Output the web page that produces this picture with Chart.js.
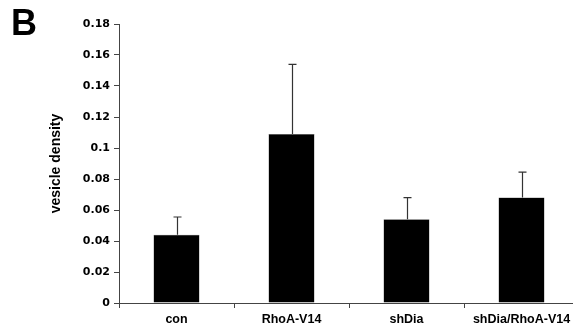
<!DOCTYPE html>
<html>
<head>
<meta charset="utf-8">
<script src="https://cdn.jsdelivr.net/npm/chart.js@4/dist/chart.umd.min.js"></script>
<style>
  html, body { margin: 0; padding: 0; background: #fff; overflow: hidden; }
  #wrap { position: relative; width: 580px; height: 326px; }
  #panel { position: absolute; left: 11px; top: 2px; font: bold 36px "Liberation Sans", Arial, sans-serif; color: #000; }
</style>
</head>
<body>
<div id="wrap">
  <canvas id="chart" width="580" height="326"></canvas>
  <div id="panel">B</div>
</div>
<script>
// values
var groups = ['con', 'RhoA-V14', 'shDia', 'shDia/RhoA-V14'];
var density = [0.044, 0.109, 0.054, 0.068];
var errors = [0.0115, 0.045, 0.014, 0.0165];
var yTicks = [0, 0.02, 0.04, 0.06, 0.08, 0.1, 0.12, 0.14, 0.16, 0.18];

// draws the upper error bars with caps
var errorBars = {
  id: 'errorBars',
  afterDatasetsDraw: function(chart) {
    var ctx = chart.ctx;
    var meta = chart.getDatasetMeta(0);
    var y = chart.scales.y;
    ctx.save();
    ctx.strokeStyle = '#333';
    ctx.lineWidth = 1.2;
    meta.data.forEach(function(bar, i) {
      var x = Math.round(bar.x) + 0.5;
      var top = y.getPixelForValue(density[i] + errors[i]);
      ctx.beginPath();
      ctx.moveTo(x, bar.y);
      ctx.lineTo(x, top);
      ctx.moveTo(x - 4, top);
      ctx.lineTo(x + 4, top);
      ctx.stroke();
    });
    ctx.restore();
  }
};

var chart = new Chart(document.getElementById('chart'), {
  type: 'bar',
  data: {
    labels: groups,
    datasets: [{
      data: density,
      backgroundColor: '#000',
      borderColor: '#555',
      borderWidth: 0.5,
      categoryPercentage: 1,
      barPercentage: 0.4
    }]
  },
  options: {
    responsive: false,
    animation: false,
    devicePixelRatio: 1,
    layout: { padding: { top: 24, right: 1, left: 0, bottom: 0 } },
    plugins: {
      legend: { display: false },
      tooltip: { enabled: false }
    },
    scales: {
      x: {
        grid: { display: true, drawOnChartArea: false, offset: true, tickLength: 5, color: '#444' },
        border: { color: '#444', width: 1 },
        ticks: {
          color: '#000',
          padding: 4,
          autoSkip: false,
          font: { family: '"Liberation Sans", Arial, sans-serif', size: 12.5, weight: 'bold' },
          maxRotation: 0
        },
        afterFit: function(s) { s.height = 23; }
      },
      y: {
        min: 0,
        max: 0.18,
        afterBuildTicks: function(s) {
          s.ticks = yTicks.map(function(v) { return { value: v }; });
        },
        grid: { display: true, drawOnChartArea: false, tickLength: 5, color: '#444' },
        border: { color: '#444', width: 1 },
        ticks: {
          color: '#000',
          padding: 4,
          autoSkip: false,
          font: { family: '"DejaVu Sans", Verdana, sans-serif', size: 11, weight: 'bold' },
          callback: function(v) { return String(Math.round(v * 100) / 100); }
        },
        title: {
          display: true,
          text: 'vesicle density',
          color: '#000',
          font: { family: '"Liberation Sans", Arial, sans-serif', size: 14, weight: 'bold' },
          padding: { top: 48, bottom: 0 }
        },
        afterFit: function(s) { s.width = 119; }
      }
    }
  },
  plugins: [errorBars]
});
</script>
</body>
</html>
